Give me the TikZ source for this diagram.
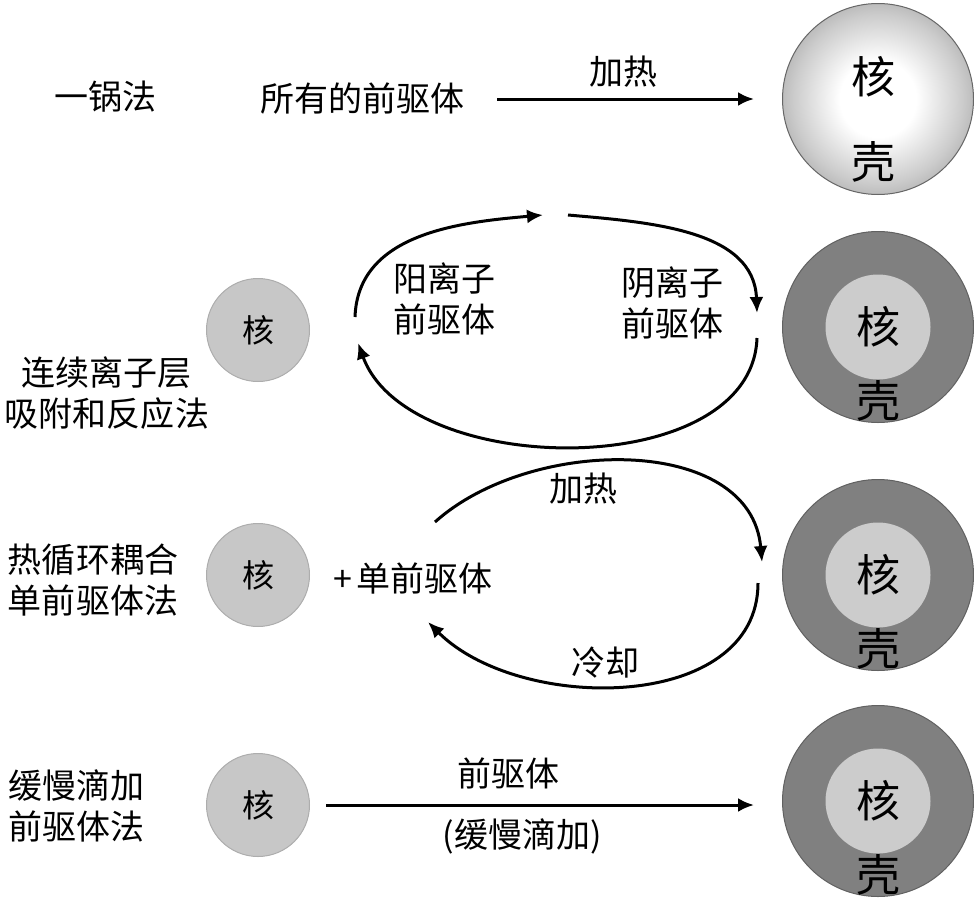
\documentclass[tikz,border=0pt]{standalone}
\usepackage{fontspec}
\setmainfont{Noto Sans CJK SC}
\usetikzlibrary{arrows.meta,positioning}
\pgfdeclareradialshading{orbshade}{\pgfpoint{0bp}{0bp}}{color(0bp)=(white); color(10bp)=(white); color(22bp)=(black!20); color(32bp)=(black!40); color(35.4bp)=(black!50); color(50bp)=(black!50)}

\begin{document}
\begin{tikzpicture}[x=1pt,y=-1pt,>={Latex[length=16pt,width=14pt]},
  label node/.style={font=\fontsize{34}{41}\selectfont,align=center,inner sep=0pt},
  core node/.style={circle,fill=black!22,draw=black!32,line width=1pt,minimum size=103pt,inner sep=0pt,font=\fontsize{32}{36}\selectfont},
  shell node/.style={circle,fill=black!50,draw=black!62,line width=1pt,minimum size=191pt,inner sep=0pt},
  seed node/.style={circle,fill=black!20,minimum size=105pt,inner sep=0pt,font=\fontsize{44}{48}\selectfont},
  big text/.style={font=\fontsize{44}{48}\selectfont,inner sep=0pt},
  flow/.style={->,line width=3pt}]

  \useasboundingbox (0,0) rectangle (974,897);

  % one-pot
  \node[label node] (onepot) at (105,97) {一锅法};
  \node[label node] (allprec) at (362,99) {所有的前驱体};
  \node[circle,shading=orbshade,draw=black!60,line width=1pt,minimum size=191pt] (ball1) at (878,99) {};
  \node[big text] (core1) at (873,77) {核};
  \node[big text] (shell1) at (873,162) {壳};
  \draw[flow,shorten <=33pt,shorten >=28pt] (allprec.east) -- node[label node,above=10pt] (heat1) {加热} (allprec.east -| ball1.west);

  % SILAR
  \node[label node] (silar) at (107,393) {连续离子层\\吸附和反应法};
  \node[core node] (core2) at (258,330) {核};
  \node[label node] (cation) at (444,299) {阳离子\\前驱体};
  \node[label node] (anion) at (672,303) {阴离子\\前驱体};
  \node[shell node] (shell2) at (878,327) {};
  \node[seed node] (seed2) at (shell2) {核};
  \node[big text,below=1pt of seed2] (crust2) {壳};
  \coordinate (c2a) at (355,317);
  \coordinate (c2b) at (543,215);
  \coordinate (c2c) at (568,215);
  \coordinate (c2d) at (757,313);
  \coordinate (c2e) at (757,338);
  \coordinate (c2f) at (358,343);
  \draw[flow] (c2a) to[out=88,in=185] (c2b);
  \draw[flow] (c2c) to[out=-5,in=92] (c2d);
  \draw[flow] (c2e) to[out=-92,in=-70,looseness=.93] (c2f);

  % thermal cycling
  \node[label node] (thermal) at (93,580) {热循环耦合\\单前驱体法};
  \node[core node] (core3) at (258,575) {核};
  \node[label node] (monoprec) at (413,578) {+\hspace{4pt}单前驱体};
  \node[label node] (heat3) at (583,489) {加热};
  \node[label node] (cool3) at (605,663) {冷却};
  \node[shell node] (shell3) at (878,575) {};
  \node[seed node] (seed3) at (shell3) {核};
  \node[big text,below=1pt of seed3] (crust3) {壳};
  \coordinate (c3a) at (435,522);
  \coordinate (c3b) at (762,562);
  \coordinate (c3c) at (758,583);
  \coordinate (c3d) at (428,622);
  \draw[flow] (c3a) to[out=42,in=95] (c3b);
  \draw[flow] (c3c) to[out=-90,in=-45] (c3d);

  % slow injection
  \node[label node] (slow) at (77,806) {缓慢滴加\\前驱体法};
  \node[core node] (core4) at (258,805) {核};
  \node[shell node] (shell4) at (878,801) {};
  \node[seed node] (seed4) at (shell4) {核};
  \node[big text,below=1pt of seed4] (crust4) {壳};
  \draw[flow,shorten <=16pt,shorten >=28pt] (core4.east) -- (core4.east -| shell4.west);
  \node[label node] (prec4) at (508,773) {前驱体};
  \node[label node] (drop4) at (522,836) {(缓慢滴加)};

\end{tikzpicture}
\end{document}
